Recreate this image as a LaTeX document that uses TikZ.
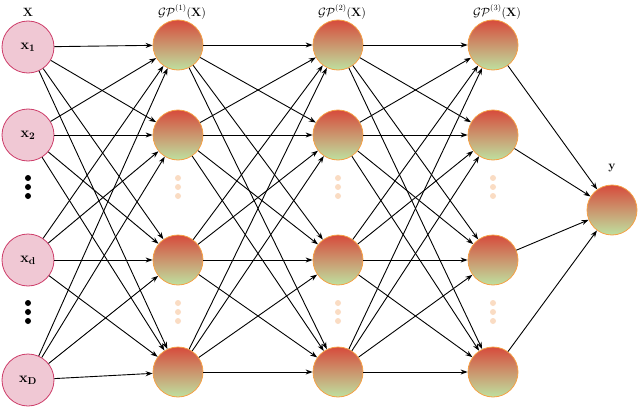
\documentclass[tikz,border=0pt]{standalone}
\usepackage{amsmath}
\usetikzlibrary{arrows.meta,calc}
\definecolor{pinkfill}{RGB}{240,200,212}
\definecolor{pinkdraw}{RGB}{205,60,105}
\definecolor{gporange}{RGB}{245,160,70}
\definecolor{paledot}{RGB}{250,220,195}
\definecolor{tA}{RGB}{215,75,60}
\definecolor{tB}{RGB}{245,185,100}
\definecolor{tC}{RGB}{190,225,160}
\tikzset{
  innode/.style={circle,draw=pinkdraw,thick,fill=pinkfill,minimum size=52pt,inner sep=0pt,font=\Large},
  gpnode/.style={circle,draw=gporange,thick,top color=tA,middle color=tB,bottom color=tC,minimum size=50pt,inner sep=0pt},
  conn/.style={-{Stealth[length=7pt,width=5pt]},line width=0.9pt},
  bdot/.style={circle,fill=black,inner sep=0pt,minimum size=6pt},
  pdot/.style={circle,fill=paledot,inner sep=0pt,minimum size=6pt},
  lab/.style={font=\large}
}
\begin{document}
\begin{tikzpicture}[x=1pt,y=-1pt]
\useasboundingbox (0,0) rectangle (640,412);
\node[innode] (i1) at (28,47) {$\mathbf{x_1}$};
\node[innode] (i2) at (28,135) {$\mathbf{x_2}$};
\node[innode] (i3) at (28,260) {$\mathbf{x_d}$};
\node[innode] (i4) at (28,380) {$\mathbf{x_D}$};
\foreach \y in {178,187,196,303,312,321} \node[bdot] at (28,\y) {};
\foreach \L/\x in {a/178,b/338,c/493} {
  \node[gpnode] (\L1) at (\x,45) {};
  \node[gpnode] (\L2) at (\x,135) {};
  \node[gpnode] (\L3) at (\x,260) {};
  \node[gpnode] (\L4) at (\x,372) {};
  \foreach \y in {178,187,196,303,312,321} \node[pdot] at (\x,\y) {};
}
\node[gpnode] (o) at (612,210) {};
\node[lab] at (28,12) {$\mathbf{X}$};
\node[lab] at (182,12) {$\mathcal{GP}^{(1)}(\mathbf{X})$};
\node[lab] at (342,12) {$\mathcal{GP}^{(2)}(\mathbf{X})$};
\node[lab] at (497,12) {$\mathcal{GP}^{(3)}(\mathbf{X})$};
\node[lab] at (612,168) {$\mathbf{y}$};
\foreach \s in {1,2,3,4} \foreach \t in {1,2,3,4} {
  \draw[conn] (i\s) -- (a\t);
  \draw[conn] (a\s) -- (b\t);
  \draw[conn] (b\s) -- (c\t);
}
\foreach \s in {1,2,3,4} \draw[conn] (c\s) -- (o);
\end{tikzpicture}
\end{document}
